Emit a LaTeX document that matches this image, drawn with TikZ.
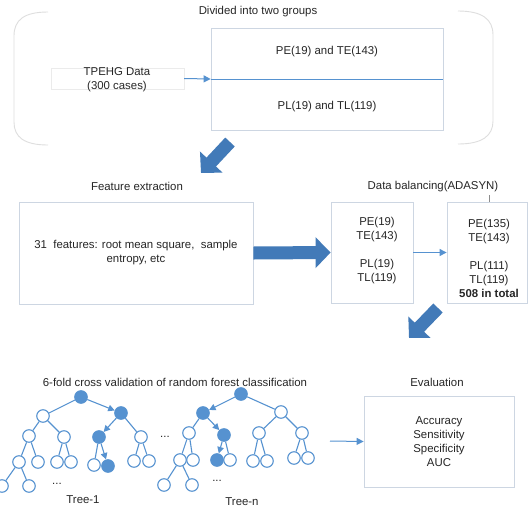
\documentclass[tikz,border=0pt]{standalone}
\usepackage{fontspec}
\setmainfont{Liberation Sans}
\usetikzlibrary{arrows.meta,shadows}
\definecolor{flowblue}{RGB}{66,122,184}
\definecolor{lineblue}{RGB}{86,146,208}
\definecolor{boxgray}{RGB}{205,214,226}
\definecolor{bracegray}{RGB}{222,222,222}

\begin{document}
\begin{tikzpicture}[x=1pt, y=-1pt,
    every node/.style={font=\fontsize{11.4}{14}\selectfont, text=black!85},
    txt/.style={align=center, inner sep=0pt},
    panel/.style={draw=boxgray, fill=white, line width=0.8pt, align=center,
      drop shadow={opacity=0.12, shadow xshift=1.2pt, shadow yshift=-1.2pt}},
    bigarrow/.style={draw=flowblue, line width=13pt, -{Triangle[length=15pt, width=30pt]}},
    flow/.style={draw=lineblue, line width=1pt, -{Triangle[length=7pt, width=7pt]}},
    leaf/.style={circle, draw=lineblue, fill=white, line width=1.1pt, minimum size=12.5pt, inner sep=0pt},
    hit/.style={leaf, fill=lineblue},
    twig/.style={draw=lineblue, line width=1.1pt},
    pick/.style={twig, -{Triangle[length=6.5pt, width=6.5pt]}}
  ]
        \useasboundingbox[fill=white] (0,0) rectangle (531,515);

        %dividing
        \draw[bracegray, line width=0.9pt] (48,12) .. controls (24,12) and (14,20) .. (14,36) -- (14,122) .. controls (14,137) and (24,145) .. (48,145);
        \draw[bracegray, line width=0.9pt] (458,11) .. controls (482,11) and (493,19) .. (493,35) -- (493,121) .. controls (493,136) and (482,144) .. (458,144);
        \node[txt] (divided) at (258,12) {Divided into two groups};
        \node[draw=black!8, minimum width=133pt, minimum height=21pt, inner sep=0pt] (tpehg) at (117.5,78.5) {};
        \node[txt] (tpehgtxt) at (117,80) {TPEHG Data\\(300 cases)};
        \node[panel, minimum width=232pt, minimum height=102pt] (groups) at (327,79) {};
        \draw[lineblue, line width=1pt] (groups.west) -- (groups.east);
        \node[txt] (pete) at (327,52) {PE(19) and TE(143)};
        \node[txt] (pltl) at (327,107) {PL(19) and TL(119)};
        \draw[flow] (tpehg.east) -- (groups.west);

        %features and balancing
        \coordinate (drop1) at (230,142);
        \coordinate (land1) at (201,173);
        \draw[bigarrow] (drop1) -- (land1);
        \node[txt] (fetitle) at (137,186) {Feature extraction};
        \node[panel, minimum width=234pt, minimum height=102pt] (features) at (136,253) {31 \ features: root mean square, \ sample\\entropy, etc};
        \node[txt] (baltitle) at (433,187) {Data balancing(ADASYN)};
        \node[panel, minimum width=82pt, minimum height=101pt] (orig) at (372,252.5) {};
        \node[txt] (origtxt) at (377,251) {PE(19)\\TE(143)\\[14pt]PL(19)\\TL(119)};
        \node[panel, minimum width=80pt, minimum height=101pt] (balanced) at (487,252.5) {};
        \node[txt] (baltxt) at (489,258) {PE(135)\\TE(143)\\[14pt]PL(111)\\TL(119)\\\textbf{508 in total}};
        \draw[bigarrow] (features.east) -- (orig.west);
        \draw[flow] (orig.east) -- (balanced.west);
        \coordinate (tick) at (489,195);
        \draw[black!45, line width=0.8pt] (tick) -- (tick |- balanced.north);

        %forest and evaluation
        \coordinate (drop2) at (438,308);
        \coordinate (land2) at (409,338);
        \draw[bigarrow] (drop2) -- (land2);
        \node[txt] (forest) at (175,382) {6-fold cross validation of random forest classification};
        \node[txt] (evaltitle) at (437,382) {Evaluation};
        \node[panel, minimum width=150pt, minimum height=91pt] (evaluation) at (439,441.5) {Accuracy\\Sensitivity\\Specificity\\AUC};
        \coordinate (forestend) at (330,441);
        \draw[flow] (forestend) -- (evaluation.west);

        %tree 1
        \node[hit] (a0) at (81,397) {};
        \node[leaf] (a1) at (43,416) {};
        \node[hit] (a2) at (121,413) {};
        \node[leaf] (a3) at (29,436) {};
        \node[leaf] (a4) at (64,437) {};
        \node[hit] (a5) at (99,437) {};
        \node[leaf] (a6) at (141,437) {};
        \node[leaf] (a7) at (19,462) {};
        \node[leaf] (a8) at (38,462) {};
        \node[leaf] (a9) at (57,462) {};
        \node[leaf] (a10) at (71,462) {};
        \node[leaf] (a11) at (94,465) {};
        \node[hit] (a12) at (108,466) {};
        \node[leaf] (a13) at (134,461) {};
        \node[leaf] (a14) at (149,461) {};
        \node[leaf] (a15) at (2,486) {};
        \node[leaf] (a16) at (29,486) {};
        \draw[twig] (a0) -- (a1);
        \draw[pick] (a0) -- (a2);
        \draw[twig] (a1) -- (a3);
        \draw[twig] (a1) -- (a4);
        \draw[pick] (a2) -- (a5);
        \draw[twig] (a2) -- (a6);
        \draw[twig] (a3) -- (a7);
        \draw[twig] (a3) -- (a8);
        \draw[twig] (a4) -- (a9);
        \draw[twig] (a4) -- (a10);
        \draw[twig] (a5) -- (a11);
        \draw[pick] (a5) -- (a12);
        \draw[twig] (a6) -- (a13);
        \draw[twig] (a6) -- (a14);
        \draw[twig] (a7) -- (a15);
        \draw[twig] (a7) -- (a16);
        \node[txt] (dots1) at (57,484) {...};
        \node[txt] (tree1) at (83,500) {Tree-1};

        \node[txt] (between) at (165,437) {...};

        %tree n
        \node[hit] (b0) at (241,394) {};
        \node[hit] (b1) at (203,413) {};
        \node[leaf] (b2) at (281,412) {};
        \node[leaf] (b3) at (189,433) {};
        \node[hit] (b4) at (224,435) {};
        \node[leaf] (b5) at (259,433) {};
        \node[leaf] (b6) at (302,433) {};
        \node[leaf] (b7) at (180,460) {};
        \node[leaf] (b8) at (193,460) {};
        \node[hit] (b9) at (217,460) {};
        \node[leaf] (b10) at (230,460) {};
        \node[leaf] (b11) at (253,461) {};
        \node[leaf] (b12) at (267,461) {};
        \node[leaf] (b13) at (294,458) {};
        \node[leaf] (b14) at (308,458) {};
        \node[leaf] (b15) at (164,485) {};
        \node[leaf] (b16) at (192,485) {};
        \draw[pick] (b0) -- (b1);
        \draw[twig] (b0) -- (b2);
        \draw[twig] (b1) -- (b3);
        \draw[pick] (b1) -- (b4);
        \draw[twig] (b2) -- (b5);
        \draw[twig] (b2) -- (b6);
        \draw[twig] (b3) -- (b7);
        \draw[twig] (b3) -- (b8);
        \draw[pick] (b4) -- (b9);
        \draw[twig] (b4) -- (b10);
        \draw[twig] (b5) -- (b11);
        \draw[twig] (b5) -- (b12);
        \draw[twig] (b6) -- (b13);
        \draw[twig] (b6) -- (b14);
        \draw[twig] (b7) -- (b15);
        \draw[twig] (b7) -- (b16);
        \node[txt] (dotsn) at (217,481) {...};
        \node[txt] (treen) at (242,502) {Tree-n};
\end{tikzpicture}
\end{document}
